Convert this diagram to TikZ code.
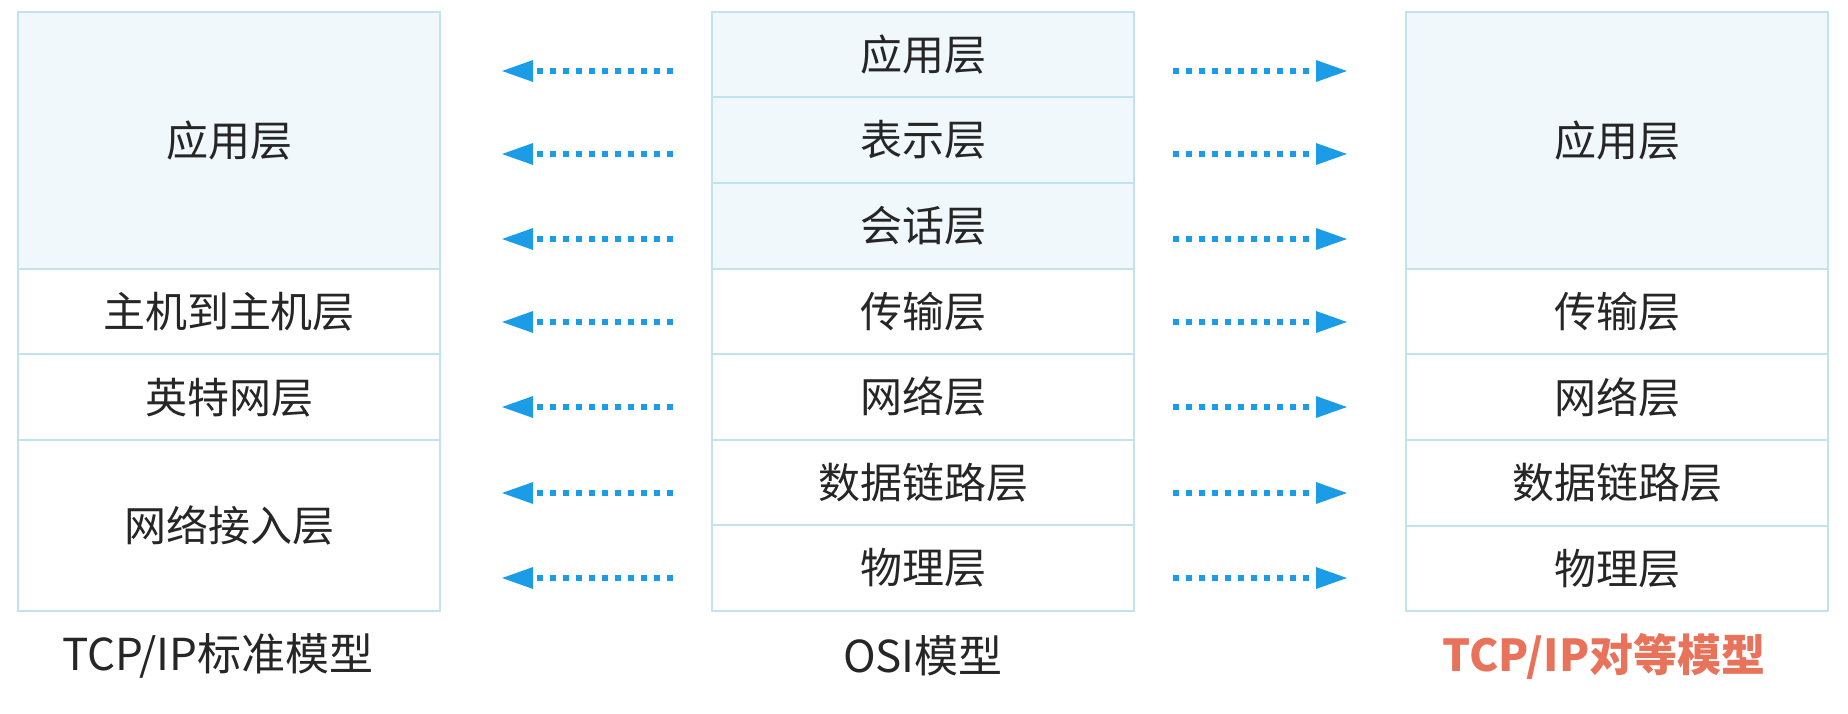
\documentclass[tikz,border=0pt]{standalone}
\usepackage{fontspec}
\setmainfont{Noto Sans CJK SC}
\usepackage{tikz}
\usetikzlibrary{arrows.meta,positioning}

\definecolor{edgeblue}{HTML}{C3E2EF}
\definecolor{paleblue}{HTML}{F0F8FC}
\definecolor{arrowblue}{HTML}{1A9CE6}
\definecolor{peerred}{HTML}{E8735A}

\begin{document}
\begin{tikzpicture}[
            x = 0.5pt, y = -0.5pt, % one unit = one pixel of the screenshot
            node distance = 0pt, % layers sit right on each other
            layer/.style = {draw=edgeblue, line width=1pt, fill=white,
                minimum width=211pt, minimum height=42.8pt,
                inner sep=0pt, outer sep=0pt, text=black!85,
                font=\fontsize{21}{25}\selectfont},
            upper/.style = {layer, fill=paleblue},
            peer/.style = {arrowblue, line width=3pt,
                dash pattern=on 3pt off 3.5pt,
                -{Triangle[length=16pt,width=10pt]}},
            title/.style = {text=black!85, font=\fontsize{22}{26}\selectfont}
        ]
	\useasboundingbox (0,0) rectangle (1848,713);

	% OSI model
	\node[upper] (o1) at (923,54.5) {应用层};
	\node[upper] (o2) [below=of o1] {表示层};
	\node[upper] (o3) [below=of o2] {会话层};
	\node[layer] (o4) [below=of o3] {传输层};
	\node[layer] (o5) [below=of o4] {网络层};
	\node[layer] (o6) [below=of o5] {数据链路层};
	\node[layer] (o7) [below=of o6] {物理层};

	% TCP/IP standard model
	\node[upper, minimum height=128.4pt] (l1) at (229,140.4) {应用层};
	\node[layer] (l2) [below=of l1] {主机到主机层};
	\node[layer] (l3) [below=of l2] {英特网层};
	\node[layer, minimum height=85.6pt] (l4) [below=of l3] {网络接入层};

	% TCP/IP peer model
	\node[upper, minimum height=128.4pt] (r1) at (1617,140.4) {应用层};
	\node[layer] (r2) [below=of r1] {传输层};
	\node[layer] (r3) [below=of r2] {网络层};
	\node[layer] (r4) [below=of r3] {数据链路层};
	\node[layer] (r5) [below=of r4] {物理层};

	\node[title] (tl) at (218,656) {TCP/IP标准模型};
	\node[title] (to) at (923,656) {OSI模型};
	\node[title, text=peerred, font=\fontsize{22}{26}\selectfont\bfseries] (tr) at (1604,656) {TCP/IP对等模型};

	% peer arrows
	\foreach \y [count=\i] in {71,154,239,322,407,493,578} {
		\coordinate (ls\i) at (673,\y);
		\coordinate (le\i) at (501,\y);
		\coordinate (rs\i) at (1173,\y);
		\coordinate (re\i) at (1348,\y);
		\draw[peer] (ls\i) -- (le\i);
		\draw[peer] (rs\i) -- (re\i);
	}

\end{tikzpicture}
\end{document}
